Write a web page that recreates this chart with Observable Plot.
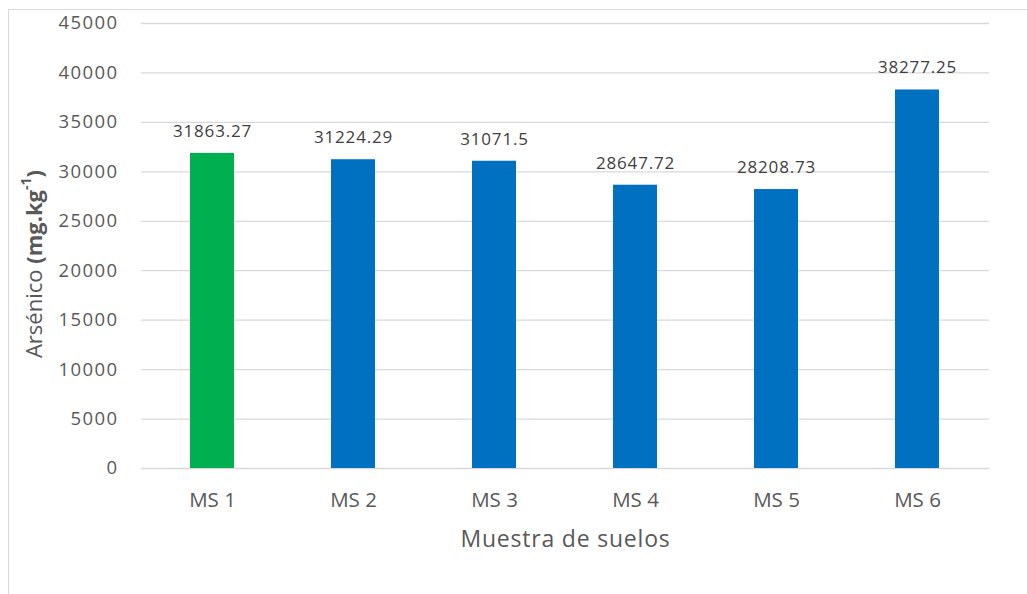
<!DOCTYPE html>
<html>
<head>
<meta charset="utf-8">
<script src="https://cdn.jsdelivr.net/npm/d3@7"></script>
<script src="https://cdn.jsdelivr.net/npm/@observablehq/plot@0.6"></script>
<style>
  html, body { margin: 0; padding: 0; background: #fff; }
  #wrap { position: relative; width: 1027px; height: 594px; overflow: hidden; }
  #frame { position: absolute; left: 8px; top: 9px; width: 1100px; height: 700px; border: 1.5px solid #d9d9d9; pointer-events: none; }
  svg { font-family: "Open Sans", sans-serif; }
</style>
</head>
<body>
<div id="wrap"><div id="frame"></div><div id="chart"></div></div>
<script>
const categories = ["MS 1", "MS 2", "MS 3", "MS 4", "MS 5", "MS 6"];
const values = [31863.27, 31224.29, 31071.5, 28647.72, 28208.73, 38277.25];
const labels = ["31863.27", "31224.29", "31071.5", "28647.72", "28208.73", "38277.25"];
const barColors = ["#00b050", "#0070c0", "#0070c0", "#0070c0", "#0070c0", "#0070c0"];
const yTicks = [0, 5000, 10000, 15000, 20000, 25000, 30000, 35000, 40000, 45000];
const xTitle = "Muestra de suelos";

const data = categories.map((c, i) => ({cat: c, value: values[i], label: labels[i], color: barColors[i]}));

const chart = Plot.plot({
  width: 1027,
  height: 594,
  marginLeft: 141,
  marginRight: 38,
  marginTop: 23,
  marginBottom: 126,
  style: {fontFamily: "'Open Sans', sans-serif", background: "transparent"},
  x: {domain: categories, paddingInner: 0.685, paddingOuter: 0.3425, label: null},
  y: {domain: [0, 45000], ticks: yTicks, label: null},
  marks: [
    Plot.gridY(yTicks, {stroke: "#d9d9d9", strokeOpacity: 1, strokeWidth: 1.3}),
    Plot.barY(data, {x: "cat", y: "value", fill: "color"}),
    Plot.axisY(yTicks, {tickSize: 0, tickPadding: 23, fontSize: 18.5, fill: "#595959", tickFormat: d => String(d), label: null}),
    Plot.axisX({tickSize: 0, tickPadding: 24, fontSize: 20.5, fill: "#595959", label: null}),
    Plot.text(data, {x: "cat", y: "value", text: "label", dy: -22, fontSize: 17, fill: "#404040"}),
    Plot.text([xTitle], {frameAnchor: "bottom", dy: 78, fontSize: 23, fill: "#595959", text: d => d})
  ]
});

document.getElementById("chart").appendChild(chart);

// tracking to mimic the wider original typeface
d3.select(chart).selectAll("g[aria-label='y-axis tick label'] text").style("letter-spacing", "1.4px");
d3.select(chart).selectAll("g[aria-label='text'] text").style("letter-spacing", "0.8px");

// y-axis title with bold units and superscript
const yt = d3.select(chart).append("text")
  .attr("transform", "translate(36,264) rotate(-90)")
  .attr("text-anchor", "middle")
  .attr("dominant-baseline", "middle")
  .attr("fill", "#595959")
  .attr("font-size", 22);
yt.append("tspan").text("Arsénico ");
yt.append("tspan").attr("font-weight", "bold").text("(mg.kg");
yt.append("tspan").attr("font-weight", "bold").attr("font-size", 14).attr("dy", -9).text("-1");
yt.append("tspan").attr("font-weight", "bold").attr("dy", 9).text(")");
</script>
</body>
</html>
